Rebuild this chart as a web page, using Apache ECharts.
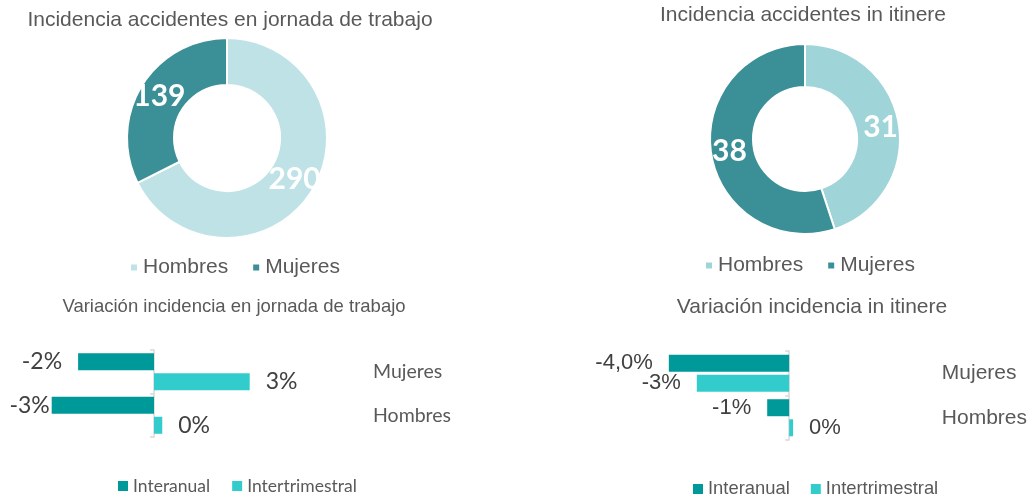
<!DOCTYPE html>
<html>
<head>
<meta charset="utf-8">
<script src="https://cdn.jsdelivr.net/npm/echarts@6/dist/echarts.min.js"></script>
<style>
  html, body { margin: 0; padding: 0; background: #fff; }
  #chart { width: 1030px; height: 497px; }
</style>
</head>
<body>
<div id="chart"></div>
<script>
  // donuts
  const pieNames = ['Hombres', 'Mujeres']
  const jornadaValues = [290, 139]
  const itinereValues = [31, 38]

  // variation bars (category axis runs bottom -> top)
  const barCategories = ['Hombres', 'Mujeres']
  const jornadaInteranual = [-3.1, -2.3]
  const jornadaIntertrimestral = [0.25, 2.9]
  const jornadaInteranualLabels = ['-3%', '-2%']
  const jornadaIntertrimestralLabels = ['0%', '3%']
  const itinereInteranual = [-0.73, -4.0]
  const itinereIntertrimestral = [0.13, -3.07]
  const itinereInteranualLabels = ['-1%', '-4,0%']
  const itinereIntertrimestralLabels = ['0%', '-3%']

  const GREY = '#595959'
  const ARIAL = 'Liberation Sans, Arial, sans-serif'
  const CALIBRI = 'Lato, sans-serif'
  const DARK = '#3b8f97'
  const C_INTERANUAL = '#009999'
  const C_INTERTRIM = '#33cccc'

  function pieSeries(values, colors, center, radius) {
    return {
      type: 'pie',
      center: center,
      radius: radius,
      startAngle: 90,
      clockwise: true,
      silent: true,
      itemStyle: { borderColor: '#fff', borderWidth: 2 },
      label: {
        show: true,
        position: 'inside',
        formatter: '{c}',
        color: '#fff',
        fontFamily: CALIBRI,
        fontWeight: 'bold',
        fontSize: 30,
      },
      labelLine: { show: false },
      data: values.map((v, i) => ({
        name: pieNames[i],
        value: v,
        itemStyle: { color: colors[i] },
      })),
    }
  }

  function barSeries(name, values, labels, color, gridIndex, font, fontSize, nearDist) {
    return {
      type: 'bar',
      name: name,
      xAxisIndex: gridIndex,
      yAxisIndex: gridIndex * 2,
      barWidth: 17,
      barGap: '18%',
      itemStyle: { color: color },
      label: {
        show: true,
        color: '#404040',
        fontFamily: font,
        fontSize: fontSize,
        distance: 16,
        formatter: (p) => labels[p.dataIndex],
      },
      data: values.map((v, i) => ({
        value: v,
        label: {
          position: v < 0 ? 'left' : 'right',
          distance: nearDist && nearDist[i] != null ? nearDist[i] : 16,
        },
      })),
    }
  }

  function catAxes(gridIndex, font, fontSize, margin) {
    return [
      {
        type: 'category',
        gridIndex: gridIndex,
        data: barCategories,
        position: 'left',
        axisLine: { show: true, onZero: true, lineStyle: { color: '#d9d9d9', width: 1.5 } },
        axisTick: { show: true, length: 4, lineStyle: { color: '#d9d9d9', width: 1.5 } },
        axisLabel: { show: false },
      },
      {
        type: 'category',
        gridIndex: gridIndex,
        data: barCategories,
        position: 'right',
        axisLine: { show: false, onZero: false },
        axisTick: { show: false },
        axisLabel: {
          margin: margin,
          color: GREY,
          fontFamily: font,
          fontSize: fontSize,
          align: 'left',
        },
      },
    ]
  }

  const chart = echarts.init(document.getElementById('chart'), null, { renderer: 'canvas' })

  chart.setOption({
    animation: false,
    textStyle: { fontFamily: ARIAL },
    title: [
      { text: 'Incidencia accidentes en jornada de trabajo', left: 230, top: 10, textAlign: 'center' },
      { text: 'Incidencia accidentes in itinere', left: 803, top: 5, textAlign: 'center' },
      { text: 'Variación incidencia en jornada de trabajo', left: 234, top: 297, textAlign: 'center', textStyle: { fontSize: 18.5 } },
      { text: 'Variación incidencia in itinere', left: 812, top: 297, textAlign: 'center' },
    ].map((t) => ({
      padding: 0,
      ...t,
      textStyle: Object.assign({ color: GREY, fontFamily: ARIAL, fontWeight: 'normal', fontSize: 21 }, t.textStyle),
    })),
    legend: [
      {
        left: 129, top: 257, padding: 0, itemGap: 23, itemWidth: 8, itemHeight: 8, icon: 'rect',
        textStyle: { color: GREY, fontFamily: ARIAL, fontSize: 21 },
        data: pieNames.map((n, i) => ({ name: n, itemStyle: { color: ['#bee2e6', DARK][i] } })),
      },
      {
        left: 704, top: 255, padding: 0, itemGap: 23, itemWidth: 8, itemHeight: 8, icon: 'rect',
        textStyle: { color: GREY, fontFamily: ARIAL, fontSize: 21 },
        data: pieNames.map((n, i) => ({ name: n, itemStyle: { color: ['#9fd4d9', DARK][i] } })),
      },
      {
        left: 118, top: 477, padding: 0, itemGap: 22, itemWidth: 10, itemHeight: 10, icon: 'rect',
        textStyle: { color: GREY, fontFamily: CALIBRI, fontSize: 17.5 },
        data: ['Interanual', 'Intertrimestral'],
      },
      {
        left: 693, top: 480, padding: 0, itemGap: 21, itemWidth: 10, itemHeight: 10, icon: 'rect',
        textStyle: { color: GREY, fontFamily: ARIAL, fontSize: 18.4 },
        data: ['Interanual', 'Intertrimestral'],
      },
    ],
    grid: [
      { left: 22, width: 330, top: 350, height: 87 },
      { left: 638.75, width: 211.75, top: 351, height: 89 },
    ],
    xAxis: [
      { type: 'value', gridIndex: 0, min: -4, max: 6, show: false },
      { type: 'value', gridIndex: 1, min: -5, max: 2, show: false },
    ],
    yAxis: [
      ...catAxes(0, CALIBRI, 19.5, 21),
      ...catAxes(1, ARIAL, 21, 92.5),
    ],
    series: [
      pieSeries(jornadaValues, ['#bee2e6', DARK], [227, 138], [53, 100]),
      pieSeries(itinereValues, ['#9fd4d9', DARK], [805, 139], [52, 95]),
      barSeries('Interanual', jornadaInteranual, jornadaInteranualLabels, C_INTERANUAL, 0, CALIBRI, 23, [2, null]),
      barSeries('Intertrimestral', jornadaIntertrimestral, jornadaIntertrimestralLabels, C_INTERTRIM, 0, CALIBRI, 23),
      barSeries('Interanual', itinereInteranual, itinereInteranualLabels, C_INTERANUAL, 1, ARIAL, 22),
      barSeries('Intertrimestral', itinereIntertrimestral, itinereIntertrimestralLabels, C_INTERTRIM, 1, ARIAL, 22),
    ],
  })
</script>
</body>
</html>
